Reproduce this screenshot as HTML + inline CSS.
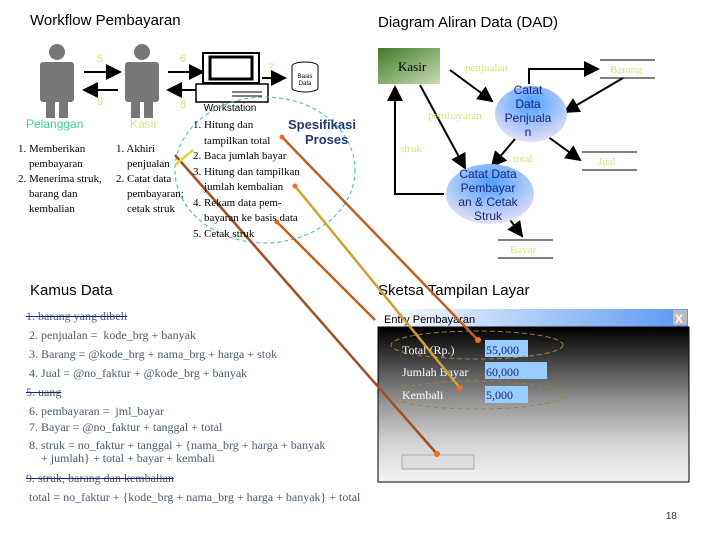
<!DOCTYPE html>
<html><head><meta charset="utf-8"><style>
body{margin:0;width:720px;height:540px;background:#fff;overflow:hidden;position:relative;font-family:"Liberation Serif",serif}
.a{position:absolute;white-space:nowrap}
.s{font-family:"Liberation Sans",sans-serif}
.k{font-size:12px;color:#4a5a70;line-height:14px}
.st{text-decoration:line-through;text-decoration-color:#1a237e}
</style></head><body>
<div class="a s" style="left:30px;top:12px;font-size:15px">Workflow Pembayaran</div>
<div class="a s" style="left:378px;top:14px;font-size:15px">Diagram Aliran Data (DAD)</div>
<div class="a s" style="left:30px;top:282px;font-size:15px">Kamus Data</div>
<div class="a s" style="left:378px;top:282px;font-size:15px">Sketsa Tampilan Layar</div>

<svg class="a" style="left:0;top:0" width="720" height="540">
<defs>
<marker id="ar" markerWidth="8" markerHeight="8" refX="7" refY="4" orient="auto"><path d="M0,0L8,4L0,8z" fill="#000"/></marker>
<radialGradient id="el" cx="50%" cy="30%" r="70%"><stop offset="0" stop-color="#4aa0ff"/><stop offset="1" stop-color="#e6e0f5"/></radialGradient>
<linearGradient id="ks" x1="0" y1="0" x2="1" y2="1"><stop offset="0" stop-color="#3f7a2a"/><stop offset="1" stop-color="#c8dcb0"/></linearGradient>
<linearGradient id="ti" x1="0" x2="1"><stop offset="0" stop-color="#fff"/><stop offset="1" stop-color="#5a98f0"/></linearGradient>
<linearGradient id="wb" x1="0" y1="0" x2="0" y2="1"><stop offset="0" stop-color="#000"/><stop offset="0.5" stop-color="#999"/><stop offset="0.75" stop-color="#d4d4d4"/><stop offset="1" stop-color="#f4f4f4"/></linearGradient>
</defs>
<g fill="#777">
<circle cx="57" cy="52" r="8"/><rect x="40" y="62" width="34" height="40" rx="3"/><rect x="46" y="100" width="9" height="18"/><rect x="59" y="100" width="9" height="18"/>
<circle cx="142" cy="52" r="8"/><rect x="125" y="62" width="34" height="40" rx="3"/><rect x="131" y="100" width="9" height="18"/><rect x="144" y="100" width="9" height="18"/>
</g>
<g stroke="#000" stroke-width="2" marker-end="url(#ar)">
<line x1="84" y1="72" x2="120" y2="72"/><line x1="118" y1="90" x2="84" y2="90"/>
<line x1="168" y1="72" x2="203" y2="72"/><line x1="200" y1="90" x2="168" y2="90"/>
<line x1="262" y1="78" x2="285" y2="78"/>
</g>
<rect x="203" y="53" width="56" height="30" fill="#fff" stroke="#000" stroke-width="2"/>
<rect x="210" y="57" width="42" height="22" fill="#fff" stroke="#000" stroke-width="3"/>
<rect x="196" y="84" width="72" height="18" fill="#fff" stroke="#000" stroke-width="1.5"/>
<line x1="232" y1="92" x2="262" y2="92" stroke="#000"/><line x1="232" y1="96" x2="262" y2="96" stroke="#000"/>
<ellipse cx="305" cy="66" rx="13" ry="4" fill="#fff" stroke="#000"/><path d="M292,66v22a13,4 0 0 0 26,0v-22" fill="#fff" stroke="#000"/>
<text x="305" y="78" font-size="6" text-anchor="middle" font-family="Liberation Sans">Basis</text><text x="305" y="85" font-size="6" text-anchor="middle" font-family="Liberation Sans">Data</text>
<text x="230" y="111" font-size="10" text-anchor="middle" font-family="Liberation Sans">Workstation</text>
<g fill="#dede80" font-size="11" font-family="Liberation Sans"><text x="97" y="62">5</text><text x="180" y="62">6</text><text x="268" y="71">7</text><text x="97" y="105">9</text><text x="180" y="108">8</text></g>
<ellipse cx="265" cy="170" rx="90" ry="73" fill="none" stroke="#3bb" stroke-dasharray="4,3"/>
<text x="288" y="129" font-size="13" font-weight="bold" fill="#223a70" font-family="Liberation Sans">Spesifikasi</text>
<text x="305" y="144" font-size="13" font-weight="bold" fill="#223a70" font-family="Liberation Sans">Proses</text>
<rect x="378" y="48" width="62" height="36" fill="url(#ks)"/>
<text x="398" y="71" font-size="13">Kasir</text>
<g stroke="#000" stroke-width="2" fill="none" marker-end="url(#ar)">
<line x1="450" y1="70" x2="492" y2="101"/>
<path d="M529,84V69H598"/>
<line x1="623" y1="78" x2="565" y2="112"/>
<line x1="547" y1="136" x2="580" y2="160"/>
<line x1="515" y1="139" x2="492" y2="166"/>
<line x1="420" y1="85" x2="465" y2="168"/>
<path d="M444,194H395V87"/>
<line x1="505" y1="213" x2="522" y2="236"/>
</g>
<ellipse cx="531" cy="114" rx="36" ry="28" fill="url(#el)"/>
<ellipse cx="490" cy="194" rx="44" ry="30" fill="url(#el)"/>
<g font-family="Liberation Sans" font-size="12" fill="#1a237e" text-anchor="middle">
<text x="528" y="94">Catat</text><text x="528" y="108">Data</text><text x="528" y="122">Penjuala</text><text x="528" y="136">n</text>
<text x="488" y="178">Catat Data</text><text x="488" y="192">Pembayar</text><text x="488" y="206">an &amp; Cetak</text><text x="488" y="220">Struk</text>
</g>
<g stroke="#000"><line x1="600" y1="60" x2="655" y2="60"/><line x1="600" y1="78" x2="655" y2="78"/>
<line x1="582" y1="152" x2="637" y2="152"/><line x1="582" y1="170" x2="637" y2="170"/>
<line x1="498" y1="240" x2="553" y2="240"/><line x1="498" y1="258" x2="553" y2="258"/></g>
<g fill="#dede80" font-size="11"><text x="465" y="71">penjualan</text><text x="610" y="73">Barang</text><text x="428" y="119">pembayaran</text><text x="400" y="152">struk</text><text x="513" y="162">total</text><text x="598" y="165">Jual</text><text x="510" y="253">Bayar</text></g>
<rect x="378" y="309" width="310" height="18" fill="url(#ti)"/>
<rect x="673" y="310" width="14" height="15" fill="#bbb"/><text x="675" y="323" font-size="12" fill="#fff" font-family="Liberation Sans" font-weight="bold">X</text>
<text x="384" y="323" font-size="11" font-family="Liberation Sans">Entry Pembayaran</text>
<rect x="378" y="327" width="311" height="155" fill="url(#wb)" stroke="#000"/>
<rect x="485" y="340" width="43" height="17" fill="#9cf"/><rect x="485" y="362" width="62" height="17" fill="#9cf"/><rect x="485" y="386" width="43" height="17" fill="#9cf"/>
<g font-size="12" fill="#1a237e"><text x="486" y="354">55,000</text><text x="486" y="376">60,000</text><text x="486" y="399">5,000</text></g>
<g font-size="12" fill="#fff"><text x="402" y="354">Total (Rp.)</text><text x="402" y="376">Jumlah Bayar</text><text x="402" y="399">Kembali</text></g>
<ellipse cx="477" cy="345" rx="86" ry="14" fill="none" stroke="#a08040" stroke-dasharray="5,3"/>
<ellipse cx="477" cy="395" rx="86" ry="14" fill="none" stroke="#a08040" stroke-dasharray="5,3"/>
<rect x="402" y="455" width="72" height="14" fill="#ddd" stroke="#aaa"/>
<g stroke-width="2.5" fill="none">
<line x1="282" y1="137" x2="478" y2="340" stroke="#c06020"/>
<line x1="295" y1="186" x2="460" y2="388" stroke="#d0a030"/>
<line x1="175" y1="155" x2="437" y2="454" stroke="#a05020"/>
<line x1="277" y1="222" x2="375" y2="320" stroke="#c06020"/>
<line x1="175" y1="165" x2="193" y2="150" stroke="#e8d040"/>
</g>
<g fill="#e87020"><circle cx="282" cy="137" r="2.5"/><circle cx="295" cy="186" r="2.5"/><circle cx="277" cy="222" r="2.5"/><circle cx="478" cy="340" r="3"/><circle cx="460" cy="388" r="3"/><circle cx="437" cy="454" r="3"/></g>
<text x="677" y="519" font-size="10" fill="#333" font-family="Liberation Sans" text-anchor="end">18</text>
</svg>

<div class="a s" style="left:26px;top:117px;font-size:12px;color:#3fcf9f">Pelanggan</div>
<div class="a s" style="left:130px;top:117px;font-size:12px;color:#dede80">Kasir</div>
<div class="a" style="left:18px;top:142px;font-size:11px;line-height:15px">1. Memberikan<br>&nbsp;&nbsp;&nbsp;&nbsp;pembayaran<br>2. Menerima struk,<br>&nbsp;&nbsp;&nbsp;&nbsp;barang dan<br>&nbsp;&nbsp;&nbsp;&nbsp;kembalian</div>
<div class="a" style="left:116px;top:142px;font-size:11px;line-height:15px">1. Akhiri<br>&nbsp;&nbsp;&nbsp;&nbsp;penjualan<br>2. Catat data<br>&nbsp;&nbsp;&nbsp;&nbsp;pembayaran;<br>&nbsp;&nbsp;&nbsp;&nbsp;cetak struk</div>
<div class="a" style="left:193px;top:118px;font-size:11px;line-height:15.5px">1. Hitung dan<br>&nbsp;&nbsp;&nbsp;&nbsp;tampilkan total<br>2. Baca jumlah bayar<br>3. Hitung dan tampilkan<br>&nbsp;&nbsp;&nbsp;&nbsp;jumlah kembalian<br>4. Rekam data pem-<br>&nbsp;&nbsp;&nbsp;&nbsp;bayaran ke basis data<br>5. Cetak struk</div>

<div class="a k" style="left:26px;top:307px;line-height:19px"><span class="st">1. barang yang dibeli</span><br>&nbsp;2. penjualan = &nbsp;kode_brg + banyak<br>&nbsp;3. Barang = @kode_brg + nama_brg + harga + stok<br>&nbsp;4. Jual = @no_faktur + @kode_brg + banyak<br><span class="st">5. uang</span><br>&nbsp;6. pembayaran = &nbsp;jml_bayar</div>
<div class="a k" style="left:26px;top:420px;line-height:14.5px">&nbsp;7. Bayar = @no_faktur + tanggal + total</div>
<div class="a k" style="left:26px;top:439px;line-height:13px">&nbsp;8. struk = no_faktur + tanggal + {nama_brg + harga + banyak<br>&nbsp;&nbsp;&nbsp;&nbsp;&nbsp;+ jumlah} + total + bayar + kembali</div>
<div class="a k" style="left:26px;top:471px"><span class="st">9. struk, barang dan kembalian</span></div>
<div class="a k" style="left:26px;top:490px">&nbsp;total = no_faktur + {kode_brg + nama_brg + harga + banyak} + total</div>
</body></html>
